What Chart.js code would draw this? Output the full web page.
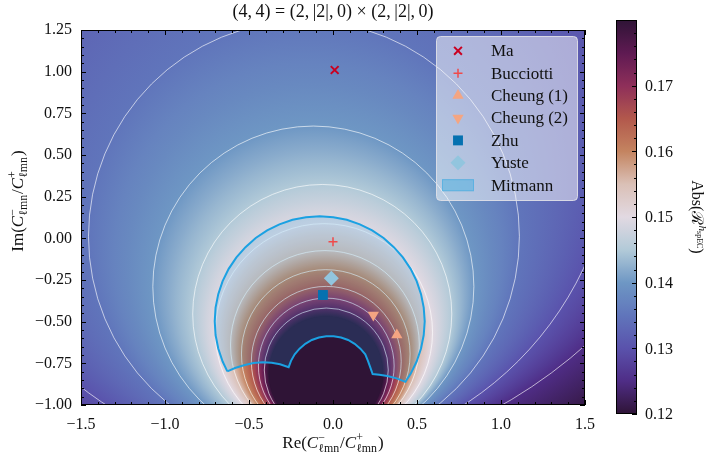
<!DOCTYPE html>
<html>
<head>
<meta charset="utf-8">
<script src="https://cdn.jsdelivr.net/npm/chart.js@4.4.1/dist/chart.umd.min.js"></script>
<style>
  html, body { margin: 0; padding: 0; background: #fff; }
  #wrap { width: 707px; height: 461px; }
</style>
</head>
<body>
<div id="wrap"><canvas id="chart" width="707" height="461"></canvas></div>
<script>
// contour levels of Abs(R) (outermost first) and the circle each level follows in the plane
const levelValues   = [0.12, 0.125, 0.13, 0.135, 0.14, 0.145, 0.15, 0.155, 0.16, 0.165, 0.17, 0.175, 0.18];
const levelCenterRe = [-0.613, -0.435, -0.286, -0.173, -0.117, -0.064, -0.054, -0.048, -0.043, -0.040, -0.040, -0.040, -0.042];
const levelCenterIm = [2.45, 1.55, 0.665, 0.0125, -0.2895, -0.454, -0.5635, -0.64, -0.694, -0.738, -0.766, -0.79, -0.81];
const levelRadius   = [4.10, 2.912, 1.965, 1.2825, 0.9555, 0.771, 0.6465, 0.562, 0.502, 0.446, 0.404, 0.369, 0.339];
const contourLevels = [0.125, 0.13, 0.135, 0.14, 0.145, 0.15, 0.155, 0.16, 0.165, 0.17, 0.175];

// literature estimates
const studies = ['Ma', 'Bucciotti', 'Cheung (1)', 'Cheung (2)', 'Zhu', 'Yuste'];
const studyRe = [0.01, 0.00, 0.38, 0.24, -0.06, -0.01];
const studyIm = [1.01, -0.02, -0.58, -0.46, -0.34, -0.24];

// Mitmann region outline
const mitmannRe = [-0.629, -0.657, -0.683, -0.699, -0.704, -0.699, -0.683, -0.657, -0.621, -0.575, -0.521, -0.460,
  -0.392, -0.319, -0.241, -0.161, -0.079, 0.002, 0.082, 0.160, 0.233, 0.301, 0.362, 0.416, 0.462, 0.498, 0.524,
  0.540, 0.546, 0.540, 0.524, 0.498, 0.462, 0.431, 0.379, 0.323, 0.276, 0.236, 0.223, 0.208, 0.192, 0.163, 0.129,
  0.090, 0.048, 0.004, -0.040, -0.084, -0.126, -0.165, -0.199, -0.228, -0.250, -0.264, -0.315, -0.365, -0.419,
  -0.474, -0.530, -0.583, -0.629];
const mitmannIm = [-0.798, -0.739, -0.661, -0.580, -0.498, -0.416, -0.335, -0.257, -0.183, -0.114, -0.053, 0.002,
  0.048, 0.084, 0.111, 0.127, 0.132, 0.127, 0.111, 0.084, 0.048, 0.002, -0.053, -0.114, -0.183, -0.257, -0.335,
  -0.416, -0.498, -0.580, -0.661, -0.739, -0.813, -0.861, -0.840, -0.826, -0.818, -0.814, -0.777, -0.735, -0.696,
  -0.662, -0.633, -0.610, -0.595, -0.587, -0.587, -0.595, -0.610, -0.633, -0.662, -0.696, -0.735, -0.773, -0.756,
  -0.746, -0.744, -0.748, -0.762, -0.778, -0.798];

const colorbarTicks = [0.12, 0.13, 0.14, 0.15, 0.16, 0.17];
const colorMin = 0.12, colorMax = 0.18;

const studyColors = ['#ca0020', '#f04a4a', '#f4a582', '#f4a582', '#0571b0', '#92c5de'];
const studyMarkers = [
  {style: 'crossRot', radius: 5.5, line: 2},
  {style: 'cross', radius: 4.5, line: 1.5},
  {style: 'triangle', radius: 6.5},
  {style: 'triangle', radius: 6.5, rotation: 180},
  {style: 'rect', radius: 7},
  {style: 'rectRot', radius: 7.5}
];
const mitmannLine = '#1ba1e2';
const mitmannFill = 'rgba(27,161,226,0.18)';

// twilight_shifted, sampled every 1/12
const cmapStops = [[47,20,54],[79,45,134],[90,82,172],[96,117,187],[110,151,196],[178,202,216],[226,217,226],
  [218,192,182],[196,132,96],[178,88,76],[142,47,90],[94,26,82],[47,20,54]];

const FONT = '"Liberation Serif", "DejaVu Serif", serif';
Chart.defaults.font.family = FONT;

function cmap(v) {
  let t = (v - colorMin) / (colorMax - colorMin);
  t = Math.min(1, Math.max(0, t));
  const f = t * (cmapStops.length - 1);
  const i = Math.min(cmapStops.length - 2, Math.floor(f));
  const w = f - i;
  const a = cmapStops[i], b = cmapStops[i + 1];
  return 'rgb(' + [0, 1, 2].map(k => Math.round(a[k] + (b[k] - a[k]) * w)).join(',') + ')';
}

function fmt(v, d) {
  const s = Math.abs(v).toFixed(d);
  return (v < -1e-9 ? '\u2212' : '') + s;
}

// text with sub/superscripts, centred on x, baseline y
function drawRich(ctx, parts, size, x, y) {
  const font = (it, s) => (it ? 'italic ' : '') + s + 'px ' + FONT;
  const widths = parts.map(p => {
    if (p.sup !== undefined) {
      ctx.font = font(false, size * 0.7);
      const w1 = ctx.measureText(p.sup).width;
      const w2 = ctx.measureText(p.sub).width;
      return Math.max(w1, w2) + 1;
    }
    ctx.font = font(p.it, size * (p.scale || 1));
    return ctx.measureText(p.t).width;
  });
  let cx = x - widths.reduce((s, w) => s + w, 0) / 2;
  ctx.textAlign = 'left';
  ctx.textBaseline = 'alphabetic';
  parts.forEach((p, i) => {
    if (p.sup !== undefined) {
      ctx.font = font(false, size * 0.7);
      ctx.fillText(p.sup, cx, y - size * 0.42);
      ctx.fillText(p.sub, cx, y + size * 0.26);
    } else {
      ctx.font = font(p.it, size * (p.scale || 1));
      ctx.fillText(p.t, cx, y + size * (p.dy || 0));
    }
    cx += widths[i];
  });
}

const mitmannIndex = studies.length;

const fieldPlugin = {
  id: 'field',
  beforeDatasetsDraw(chart) {
    const {ctx, chartArea: a, scales: {x, y}} = chart;
    const circ = i => {
      const cx = x.getPixelForValue(levelCenterRe[i]);
      const cy = y.getPixelForValue(levelCenterIm[i]);
      const r = x.getPixelForValue(levelCenterRe[i] + levelRadius[i]) - cx;
      return {cx, cy, r};
    };
    ctx.save();
    ctx.beginPath();
    ctx.rect(a.left, a.top, a.right - a.left, a.bottom - a.top);
    ctx.clip();
    for (let i = 0; i < levelValues.length - 1; i++) {
      const o = circ(i), n = circ(i + 1);
      const g = ctx.createRadialGradient(n.cx, n.cy, n.r, o.cx, o.cy, o.r);
      for (let k = 0; k <= 5; k++) {
        const f = k / 5;
        g.addColorStop(f, cmap(levelValues[i + 1] + (levelValues[i] - levelValues[i + 1]) * f));
      }
      ctx.fillStyle = g;
      ctx.beginPath();
      if (i === 0) ctx.rect(a.left, a.top, a.right - a.left, a.bottom - a.top);
      else ctx.arc(o.cx, o.cy, o.r, 0, Math.PI * 2);
      ctx.fill();
    }
    const last = circ(levelValues.length - 1);
    ctx.fillStyle = cmap(levelValues[levelValues.length - 1]);
    ctx.beginPath();
    ctx.arc(last.cx, last.cy, last.r, 0, Math.PI * 2);
    ctx.fill();

    // contour lines
    ctx.strokeStyle = 'rgba(255,255,255,0.7)';
    ctx.lineWidth = 0.9;
    levelValues.forEach((v, i) => {
      if (!contourLevels.includes(v)) return;
      const c = circ(i);
      ctx.beginPath();
      ctx.arc(c.cx, c.cy, c.r, 0, Math.PI * 2);
      ctx.stroke();
    });

    // shaded Mitmann region, from the points the library placed
    const meta = chart.getDatasetMeta(mitmannIndex);
    ctx.beginPath();
    meta.data.forEach((p, i) => i ? ctx.lineTo(p.x, p.y) : ctx.moveTo(p.x, p.y));
    ctx.closePath();
    ctx.fillStyle = mitmannFill;
    ctx.fill();
    ctx.restore();
  }
};

const framePlugin = {
  id: 'frame',
  afterDatasetsDraw(chart) {
    const {ctx, chartArea: a, scales: {x, y}} = chart;
    ctx.save();
    ctx.strokeStyle = '#000';
    ctx.lineWidth = 1;
    ctx.beginPath();
    for (let k = -15; k <= 15; k++) {
      const px = Math.round(x.getPixelForValue(k / 10)) + 0.5;
      const len = k % 5 === 0 ? 5 : 3;
      ctx.moveTo(px, a.bottom); ctx.lineTo(px, a.bottom - len);
      ctx.moveTo(px, a.top); ctx.lineTo(px, a.top + len);
    }
    for (let k = -20; k <= 25; k++) {
      const py = Math.round(y.getPixelForValue(k / 20)) + 0.5;
      const len = k % 5 === 0 ? 5 : 3;
      ctx.moveTo(a.left, py); ctx.lineTo(a.left + len, py);
      ctx.moveTo(a.right, py); ctx.lineTo(a.right - len, py);
    }
    ctx.stroke();
    ctx.strokeRect(Math.round(a.left) + 0.5, Math.round(a.top) + 0.5,
      Math.round(a.right - a.left) - 1, Math.round(a.bottom - a.top) - 1);

    // legend
    const box = {left: a.right - 149, top: a.top + 6, w: 141, h: 164};
    ctx.beginPath();
    ctx.roundRect(box.left + 0.5, box.top + 0.5, box.w, box.h, 4);
    ctx.fillStyle = 'rgba(255,255,255,0.5)';
    ctx.fill();
    ctx.strokeStyle = 'rgba(225,225,232,0.9)';
    ctx.stroke();
    const labels = studies.concat(['Mitmann']);
    labels.forEach((name, i) => {
      const ry = box.top + 14.8 + 22.4 * i;
      const mx = box.left + 22;
      if (i < studies.length) {
        const m = studyMarkers[i];
        ctx.fillStyle = studyColors[i];
        ctx.strokeStyle = studyColors[i];
        ctx.lineWidth = m.line || 1;
        Chart.helpers.drawPoint(ctx, {pointStyle: m.style, radius: m.radius, rotation: m.rotation || 0,
          borderWidth: m.line || 0}, mx, ry);
      } else {
        ctx.fillStyle = 'rgba(60,170,225,0.45)';
        ctx.strokeStyle = 'rgba(60,170,225,0.5)';
        ctx.lineWidth = 1;
        ctx.fillRect(mx - 16, ry - 6, 32, 12);
        ctx.strokeRect(mx - 15.5, ry - 5.5, 31, 11);
      }
      ctx.fillStyle = '#111';
      ctx.font = '17px ' + FONT;
      ctx.textAlign = 'left';
      ctx.textBaseline = 'middle';
      ctx.fillText(name, box.left + 55, ry + 1);
    });
    ctx.restore();
  }
};

const decorPlugin = {
  id: 'decor',
  afterDraw(chart) {
    const {ctx, chartArea: a} = chart;
    ctx.save();
    ctx.fillStyle = '#111';
    const mid = (a.left + a.right) / 2;
    drawRich(ctx, [{t: 'Re('}, {t: 'C', it: true}, {sup: '\u2212', sub: '\u2113mn'}, {t: '/'},
      {t: 'C', it: true}, {sup: '+', sub: '\u2113mn'}, {t: ')'}], 17, mid, 448);

    ctx.save();
    ctx.translate(18, 201);
    ctx.rotate(-Math.PI / 2);
    drawRich(ctx, [{t: 'Im('}, {t: 'C', it: true}, {sup: '\u2212', sub: '\u2113mn'}, {t: '/'},
      {t: 'C', it: true}, {sup: '+', sub: '\u2113mn'}, {t: ')'}], 17, 0, 5);
    ctx.restore();

    // colour bar
    const cb = {left: 616, top: 20, w: 21, h: 394};
    const g = ctx.createLinearGradient(0, cb.top + cb.h, 0, cb.top);
    for (let k = 0; k <= 60; k++) g.addColorStop(k / 60, cmap(colorMin + (colorMax - colorMin) * k / 60));
    ctx.fillStyle = g;
    ctx.fillRect(cb.left, cb.top, cb.w, cb.h);
    const vy = v => cb.top + cb.h * (1 - (v - colorMin) / (colorMax - colorMin));
    ctx.strokeStyle = '#000';
    ctx.lineWidth = 1;
    ctx.beginPath();
    for (let k = 0; k <= 30; k++) {
      const py = Math.round(vy(colorMin + k * 0.002)) + 0.5;
      const len = k % 5 === 0 ? 5 : 3;
      ctx.moveTo(cb.left + cb.w, py); ctx.lineTo(cb.left + cb.w - len, py);
    }
    ctx.stroke();
    ctx.strokeRect(cb.left + 0.5, cb.top + 0.5, cb.w - 1, cb.h - 1);
    ctx.fillStyle = '#111';
    ctx.font = '16px ' + FONT;
    ctx.textAlign = 'left';
    ctx.textBaseline = 'middle';
    colorbarTicks.forEach(v => ctx.fillText(v.toFixed(2), cb.left + cb.w + 8, vy(v) + 1));

    ctx.save();
    ctx.translate(697, cb.top + cb.h / 2);
    ctx.rotate(Math.PI / 2);
    drawRich(ctx, [{t: 'Abs('}, {t: '\u211B'}, {t: 'h', it: true, scale: 0.7, dy: -0.42},
      {t: 'spEC', scale: 0.5, dy: -0.3}, {t: ')'}], 16, 0, 5);
    ctx.restore();
    ctx.restore();
  }
};

const datasets = studies.map((name, i) => ({
  type: 'scatter',
  label: name,
  data: [{x: studyRe[i], y: studyIm[i]}],
  pointStyle: studyMarkers[i].style,
  pointRotation: studyMarkers[i].rotation || 0,
  pointRadius: studyMarkers[i].radius,
  backgroundColor: studyColors[i],
  borderColor: studyColors[i],
  borderWidth: studyMarkers[i].line || 0,
  order: i
}));
datasets.push({
  type: 'line',
  label: 'Mitmann',
  data: mitmannRe.map((v, i) => ({x: v, y: mitmannIm[i]})),
  borderColor: mitmannLine,
  borderWidth: 2,
  pointRadius: 0,
  fill: false,
  tension: 0,
  order: 10
});

new Chart(document.getElementById('chart'), {
  type: 'scatter',
  data: {datasets},
  options: {
    responsive: false,
    animation: false,
    events: [],
    layout: {padding: {left: 0, right: 122, top: 0, bottom: 0}},
    plugins: {
      legend: {display: false},
      tooltip: {enabled: false},
      title: {
        display: true,
        fullSize: false,
        text: '(4,\u20094) = (2,\u2009|2|,\u20090) \u00d7 (2,\u2009|2|,\u20090)',
        color: '#111',
        font: {family: FONT, size: 18, weight: 'normal'},
        padding: {top: 1, bottom: 7.4}
      }
    },
    scales: {
      x: {
        type: 'linear', min: -1.5, max: 1.5,
        ticks: {stepSize: 0.5, color: '#111', font: {size: 16}, padding: 10, maxRotation: 0, autoSkip: false,
          callback: v => fmt(v, 1)},
        grid: {display: false, drawTicks: false},
        border: {display: false},
        afterFit: s => { s.height = 56; }
      },
      y: {
        type: 'linear', min: -1, max: 1.25,
        ticks: {stepSize: 0.25, color: '#111', font: {size: 16}, padding: 9, autoSkip: false,
          callback: v => fmt(v, 2)},
        grid: {display: false, drawTicks: false},
        border: {display: false},
        afterFit: s => { s.width = 81; }
      }
    }
  },
  plugins: [fieldPlugin, framePlugin, decorPlugin]
});
</script>
</body>
</html>
